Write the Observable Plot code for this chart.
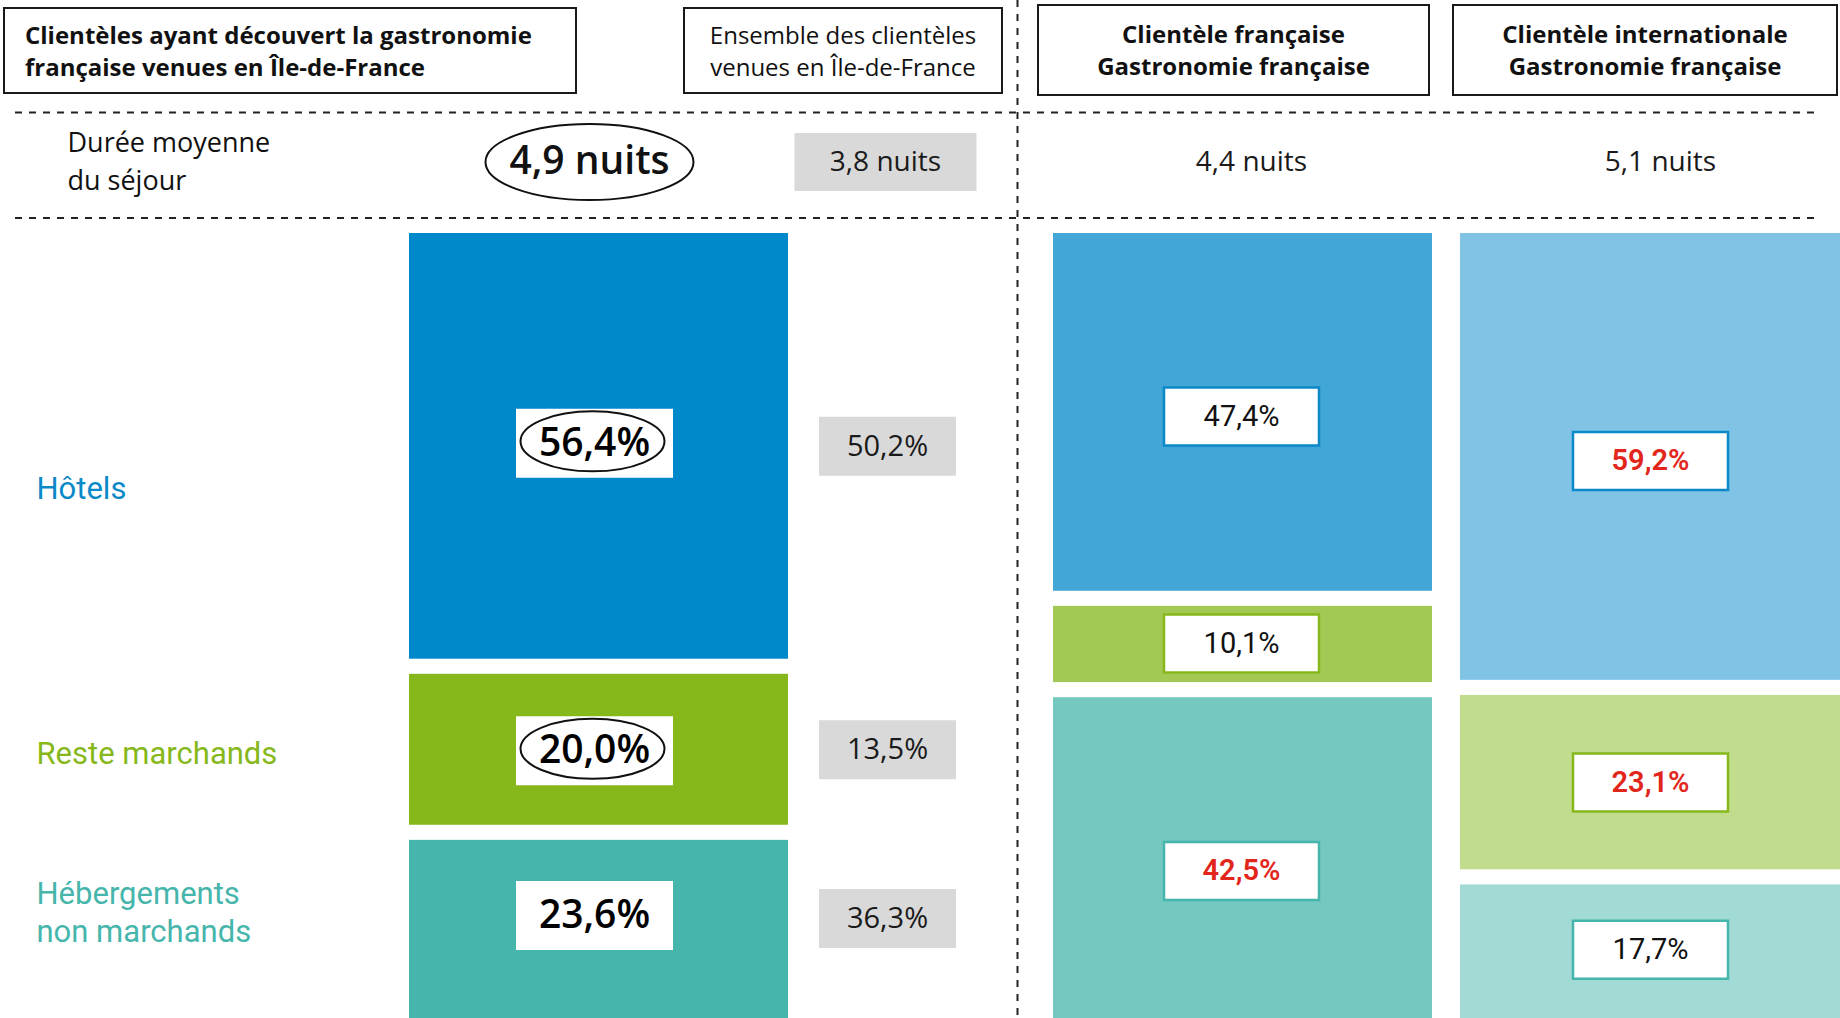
<!DOCTYPE html>
<html lang="fr">
<head>
<meta charset="utf-8">
<script src="https://cdn.jsdelivr.net/npm/d3@7"></script>
<script src="https://cdn.jsdelivr.net/npm/@observablehq/plot@0.6"></script>
<style>
  html, body { margin: 0; padding: 0; background: #fff; }
  body { font-family: "Open Sans", Roboto, sans-serif; color: #111; }
  #page { position: relative; width: 1840px; height: 1018px; overflow: hidden; background: #fff; }
  .hbox { position: absolute; box-sizing: border-box; border: 2px solid #1a1a1a; display: flex; align-items: center;
          font-size: 24px; line-height: 32px; color: #111; background: #fff; }
  .hbox.center { justify-content: center; text-align: center; }
  .layer { position: absolute; left: 0; }
  #seps { position: absolute; left: 0; top: 0; pointer-events: none; }
</style>
</head>
<body>
<div id="page"></div>
<script>
// ---------------- DATA ----------------
const categories = ["Hôtels", "Reste marchands", "Hébergements non marchands"];
const categoryLabels = ["Hôtels", "Reste marchands", "Hébergements\nnon marchands"];
const columnTitles = [
  ["Clientèles ayant découvert la gastronomie", "française venues en Île-de-France"],
  ["Ensemble des clientèles", "venues en Île-de-France"],
  ["Clientèle française", "Gastronomie française"],
  ["Clientèle internationale", "Gastronomie française"]
];
const rowTitle = "Durée moyenne\ndu séjour";
const decouvert = [56.4, 20.0, 23.6];      // clientèles ayant découvert la gastronomie française
const ensemble = [50.2, 13.5, 36.3];       // ensemble des clientèles
const francaise = [47.4, 10.1, 42.5];      // clientèle française – gastronomie
const internationale = [59.2, 23.1, 17.7]; // clientèle internationale – gastronomie
const nuits = [4.9, 3.8, 4.4, 5.1];        // durée moyenne du séjour (4 colonnes)

// ---------------- LAYOUT & STYLE ----------------
const L = {
  headers: [
    {left: 3, top: 7, w: 574, h: 87, align: "left", pad: 20, weight: 700},
    {left: 683, top: 7, w: 320, h: 87, align: "center", pad: 0, weight: 400},
    {left: 1037, top: 4, w: 393, h: 92, align: "center", pad: 0, weight: 700},
    {left: 1452, top: 4, w: 386, h: 92, align: "center", pad: 0, weight: 700}
  ],
  sep: {vx: 1017.5, h1: 112.5, h2: 218, x1: 15, x2: 1817, dash: "7 7"},
  nights: {top: 111, h: 100, x: [589, 885, 1251, 1660], titleX: 67, titleDy: -3, ellipse: [104, 38], box: [182, 58]},
  bars: {top: 218, h: 800, startPx: 15, gap: 2},
  cols: {
    decouvert: {x1: 409, x2: 788, cx: 594},
    ensemble: {cx: 887},
    francaise: {x1: 1053, x2: 1432, cx: 1241},
    internationale: {x1: 1460, x2: 1840, cx: 1650}
  },
  rowLabel: {x: 36, dy: [40, 2, -19]},
  nudge: {decouvert: [-3, 1, -14], ensemble: [0, 0, -11], francaise: [4, -1, 13], internationale: [4, 0, -2]},
  boxes: {decouvert: [157, 69], ensemble: [137, 59], compare: [155, 58]},
  ellipse: [72, 30]
};
const palette = {
  decouvert: ["#0089ca", "#86b81b", "#46b5ab"],
  francaise: ["#42a6d6", "#a3c853", "#74c8c0"],
  internationale: ["#80c3e4", "#c2dc8d", "#a2dad5"],
  strong: ["#0a89c9", "#86b81b", "#46b5ab"],
  grey: "#d9d9d9", red: "#e2261c", ink: "#111"
};
const FONT = "'Open Sans', Roboto, sans-serif";
const FONT2 = "Roboto, 'Open Sans', sans-serif";

// ---------------- HELPERS ----------------
const fr1 = v => v.toFixed(1).replace(".", ",");
const fmtPct = v => fr1(v) + "%";
const fmtNuits = v => fr1(v) + " nuits";
const rectSymbol = (w, h) => ({draw(ctx) {
  ctx.moveTo(-w / 2, -h / 2); ctx.lineTo(w / 2, -h / 2); ctx.lineTo(w / 2, h / 2); ctx.lineTo(-w / 2, h / 2); ctx.closePath();
}});
const ellipseSymbol = (rx, ry) => ({draw(ctx) {
  const kx = rx * 0.5523, ky = ry * 0.5523;
  ctx.moveTo(-rx, 0);
  ctx.bezierCurveTo(-rx, -ky, -kx, -ry, 0, -ry);
  ctx.bezierCurveTo(kx, -ry, rx, -ky, rx, 0);
  ctx.bezierCurveTo(rx, ky, kx, ry, 0, ry);
  ctx.bezierCurveTo(-kx, ry, -rx, ky, -rx, 0);
  ctx.closePath();
}});

const page = document.getElementById("page");

// ---------------- SEPARATORS ----------------
const NS = "http://www.w3.org/2000/svg";
const seps = document.createElementNS(NS, "svg");
seps.setAttribute("id", "seps"); seps.setAttribute("width", 1840); seps.setAttribute("height", 1018);
[[L.sep.vx, 0, L.sep.vx, 1018], [L.sep.x1, L.sep.h1, L.sep.x2, L.sep.h1], [L.sep.x1, L.sep.h2, L.sep.x2, L.sep.h2]].forEach(([x1, y1, x2, y2]) => {
  const l = document.createElementNS(NS, "line");
  l.setAttribute("x1", x1); l.setAttribute("y1", y1); l.setAttribute("x2", x2); l.setAttribute("y2", y2);
  l.setAttribute("stroke", "#222"); l.setAttribute("stroke-width", 2); l.setAttribute("stroke-dasharray", L.sep.dash);
  seps.appendChild(l);
});

// ---------------- HEADERS ----------------
columnTitles.forEach((lines, i) => {
  const s = L.headers[i];
  const div = document.createElement("div");
  div.className = "hbox" + (s.align === "center" ? " center" : "");
  Object.assign(div.style, {left: s.left + "px", top: s.top + "px", width: s.w + "px", height: s.h + "px",
    paddingLeft: s.pad + "px", fontWeight: s.weight});
  div.innerHTML = lines.join("<br>");
  page.appendChild(div);
});

// ---------------- NIGHTS ROW ----------------
const nightData = nuits.map((v, i) => ({i, v}));
const nightsPlot = Plot.plot({
  width: 1840, height: L.nights.h, margin: 0,
  style: {fontFamily: FONT, background: "transparent", overflow: "visible"},
  x: {domain: [0, 1840], range: [0, 1840], axis: null},
  y: {type: "band", domain: ["durée"], axis: null},
  color: {type: "identity"},
  marks: [
    Plot.text([rowTitle], {x: () => L.nights.titleX, y: () => "durée", dy: L.nights.titleDy, text: d => d, textAnchor: "start",
      fontSize: 27, lineHeight: 1.4, fill: palette.ink}),
    Plot.dot(nightData.filter(d => d.i === 1), {x: d => L.nights.x[d.i], y: () => "durée",
      symbol: rectSymbol(...L.nights.box), fill: palette.grey, stroke: "none"}),
    Plot.dot(nightData.filter(d => d.i === 0 && d.v > nuits[1]), {x: d => L.nights.x[d.i], y: () => "durée",
      symbol: ellipseSymbol(...L.nights.ellipse), fill: "none", stroke: palette.ink, strokeWidth: 2}),
    Plot.text(nightData.filter(d => d.i === 0), {x: d => L.nights.x[d.i], y: () => "durée", text: d => fmtNuits(d.v),
      fontSize: 39, fontWeight: 600, fill: palette.ink}),
    Plot.text(nightData.filter(d => d.i > 0), {x: d => L.nights.x[d.i], y: () => "durée", text: d => fmtNuits(d.v),
      fontSize: 28, fill: "#1a1a1a"})
  ]
});

// ---------------- BARS ----------------
const series = {decouvert, francaise, internationale};
const segs = [];
for (const [col, vals] of Object.entries(series)) {
  let acc = 0;
  vals.forEach((v, i) => {
    const y1 = acc + i * L.bars.gap, y2 = y1 + v;
    segs.push({col, cat: i, v, y1, y2, mid: (y1 + y2) / 2});
    acc += v;
  });
}
const total = 100 + 2 * L.bars.gap;
const decSegs = segs.filter(d => d.col === "decouvert");
const ensSegs = ensemble.map((v, i) => ({col: "ensemble", cat: i, v, mid: decSegs[i].mid}));
const cmpSegs = segs.filter(d => d.col !== "decouvert").map(d => {
  const other = d.col === "francaise" ? internationale : francaise;
  return {...d, higher: d.v > other[d.cat]};
});
const rowLabelData = categoryLabels.map((t, i) => ({t, i, mid: decSegs[i].mid}));

const barsPlot = Plot.plot({
  width: 1840, height: L.bars.h, margin: 0,
  style: {fontFamily: FONT, background: "transparent"},
  x: {domain: [0, 1840], range: [0, 1840], axis: null},
  y: {domain: [0, total], range: [L.bars.startPx, L.bars.h], axis: null},
  color: {type: "identity"},
  marks: [
    Plot.rect(segs, {x1: d => L.cols[d.col].x1, x2: d => L.cols[d.col].x2, y1: "y1", y2: "y2",
      fill: d => palette[d.col][d.cat]}),
    // row labels
    ...rowLabelData.map(d => Plot.text([d], {x: () => L.rowLabel.x, y: "mid", dy: L.rowLabel.dy[d.i], text: "t",
      textAnchor: "start", fontSize: 31, lineHeight: 1.24, fontFamily: FONT2, fill: palette.strong[d.i]})),
    // Ensemble (grey boxes)
    ...ensSegs.map(d => Plot.dot([d], {x: () => L.cols.ensemble.cx, y: "mid", dy: L.nudge.ensemble[d.cat],
      symbol: rectSymbol(...L.boxes.ensemble), fill: palette.grey, stroke: "none"})),
    ...ensSegs.map(d => Plot.text([d], {x: () => L.cols.ensemble.cx, y: "mid", dy: L.nudge.ensemble[d.cat],
      text: d => fmtPct(d.v), fontSize: 29, fill: "#1a1a1a"})),
    // Découvert (white boxes, ellipse when above ensemble)
    ...decSegs.map(d => Plot.dot([d], {x: () => L.cols.decouvert.cx, y: "mid", dy: L.nudge.decouvert[d.cat],
      symbol: rectSymbol(...L.boxes.decouvert), fill: "white", stroke: "none"})),
    ...decSegs.filter(d => d.v > ensemble[d.cat]).map(d => Plot.dot([d], {x: () => L.cols.decouvert.cx - 2, y: "mid",
      dy: L.nudge.decouvert[d.cat] - 2, symbol: ellipseSymbol(...L.ellipse), fill: "none", stroke: palette.ink, strokeWidth: 2})),
    ...decSegs.map(d => Plot.text([d], {x: () => L.cols.decouvert.cx, y: "mid", dy: L.nudge.decouvert[d.cat],
      text: d => fmtPct(d.v), fontSize: 39, fontWeight: 600, fill: "#000"})),
    // Française / Internationale (bordered boxes; red when higher)
    ...cmpSegs.map(d => Plot.dot([d], {x: () => L.cols[d.col].cx, y: "mid", dy: L.nudge[d.col][d.cat],
      symbol: rectSymbol(...L.boxes.compare), fill: "white", stroke: palette.strong[d.cat], strokeWidth: 2.5})),
    ...cmpSegs.map(d => Plot.text([d], {x: () => L.cols[d.col].cx, y: "mid", dy: L.nudge[d.col][d.cat],
      text: d => fmtPct(d.v), fontSize: 29, fontFamily: FONT2, fontWeight: d.higher ? 600 : 400,
      fill: d.higher ? palette.red : palette.ink}))
  ]
});

nightsPlot.classList.add("layer"); nightsPlot.style.top = L.nights.top + "px";
barsPlot.classList.add("layer"); barsPlot.style.top = L.bars.top + "px";
page.appendChild(seps);
page.appendChild(nightsPlot);
page.appendChild(barsPlot);
</script>
</body>
</html>
